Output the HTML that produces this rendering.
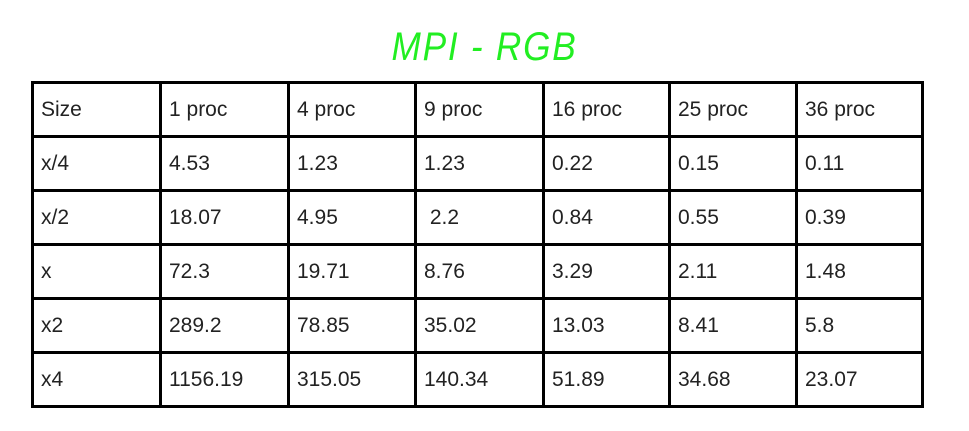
<!DOCTYPE html>
<html><head><meta charset="utf-8"><style>
body{margin:0;width:969px;height:431px;background:#fff;position:relative;overflow:hidden;font-family:"Liberation Sans",sans-serif}
#title{position:absolute;left:0;width:969px;top:25px;text-align:center;color:#22ee22;font-size:40px;font-style:italic;letter-spacing:2px;transform:scaleX(0.88)}
.line{position:absolute;background:#000}
.cell{position:absolute;font-size:21px;color:#222;line-height:21px}
</style></head><body>
<div id="title">MPI - RGB</div>
<div id="tbl"></div>
<script>
const headers=["Size","1 proc","4 proc","9 proc","16 proc","25 proc","36 proc"];
const sizes=["x/4","x/2","x","x2","x4"];
const values=[
["4.53","1.23","1.23","0.22","0.15","0.11"],
["18.07","4.95"," 2.2","0.84","0.55","0.39"],
["72.3","19.71","8.76","3.29","2.11","1.48"],
["289.2","78.85","35.02","13.03","8.41","5.8"],
["1156.19","315.05","140.34","51.89","34.68","23.07"]];
const colX=[31,159,287,414,542,668,795,921];
const rowY=[81,135,189,243,297,351,405];
const t=document.getElementById('tbl');
colX.forEach((x,i)=>{const d=document.createElement('div');d.className='line';


d.style.cssText=`left:${x}px;top:81px;width:3px;height:327px`;t.appendChild(d);});
rowY.forEach((y,i)=>{const d=document.createElement('div');d.className='line';


d.style.cssText=`left:31px;top:${y}px;width:893px;height:3px`;t.appendChild(d);});
const rows=[headers].concat(sizes.map((s,i)=>[s].concat(values[i])));
rows.forEach((r,ri)=>r.forEach((txt,ci)=>{const d=document.createElement('div');d.className='cell';


d.style.left=(colX[ci]+10)+'px';d.style.top=(rowY[ri]+18)+'px';d.style.whiteSpace='pre';
d.textContent=txt;t.appendChild(d);}));
</script>
</body></html>
